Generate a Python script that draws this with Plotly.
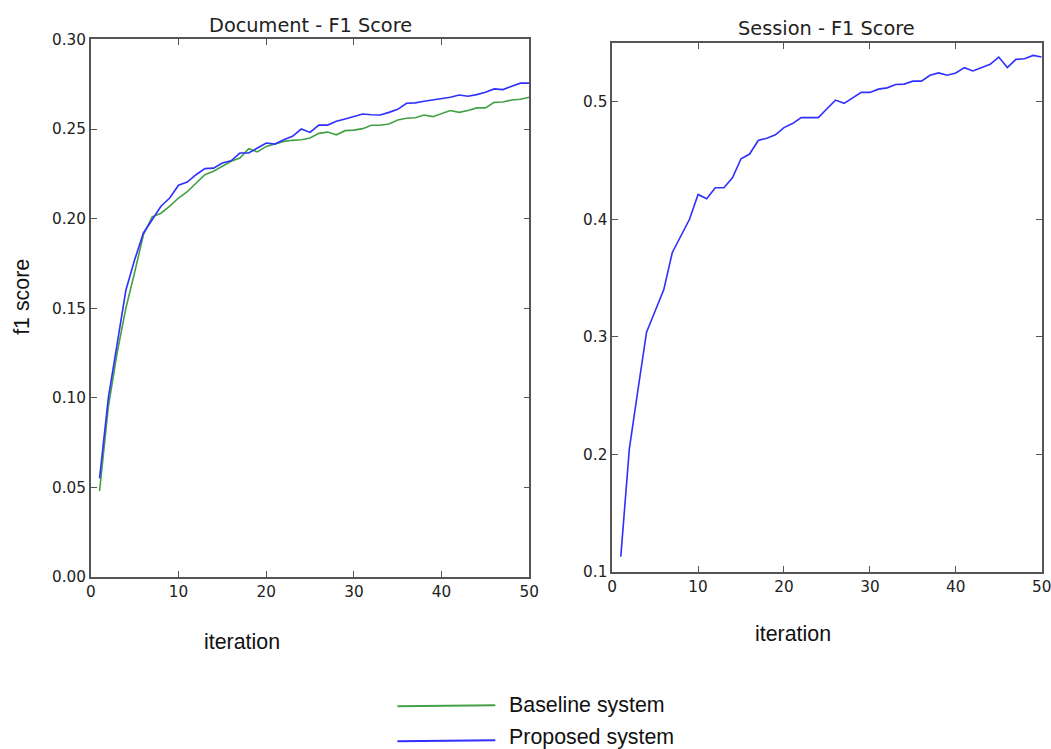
import plotly.graph_objects as go

iterations = list(range(1, 51))

doc_baseline = [0.048, 0.095, 0.125, 0.150, 0.170, 0.191, 0.201, 0.203, 0.207, 0.2115,
                0.215, 0.220, 0.2245, 0.2264, 0.2292, 0.232, 0.2338, 0.239, 0.2372, 0.2403,
                0.2416, 0.2431, 0.2437, 0.244, 0.245, 0.2476, 0.2483, 0.2468, 0.2491, 0.2494,
                0.2502, 0.2521, 0.2521, 0.2528, 0.255, 0.256, 0.2563, 0.2578, 0.2569, 0.2586,
                0.2603, 0.2593, 0.2603, 0.2618, 0.2618, 0.2649, 0.2651, 0.2662, 0.2666, 0.2677]

doc_proposed = [0.055, 0.100, 0.130, 0.160, 0.177, 0.192, 0.1994, 0.2069, 0.2115, 0.2186,
                0.2204, 0.2245, 0.2279, 0.2282, 0.231, 0.2323, 0.2366, 0.2366, 0.2394, 0.2422,
                0.2416, 0.244, 0.2459, 0.250, 0.2481, 0.2522, 0.2522, 0.2543, 0.2556, 0.2569,
                0.2584, 0.258, 0.2578, 0.2593, 0.261, 0.2644, 0.2646, 0.2655, 0.2662, 0.2672,
                0.2677, 0.269, 0.2683, 0.2692, 0.2705, 0.2724, 0.272, 0.2739, 0.2756, 0.2756]

session_proposed = [0.113, 0.205, 0.255, 0.304, 0.322, 0.340, 0.3718, 0.3859, 0.400, 0.4211,
                    0.4175, 0.4268, 0.4268, 0.4352, 0.4515, 0.4555, 0.467, 0.469, 0.4718, 0.478,
                    0.4814, 0.4865, 0.4865, 0.4865, 0.494, 0.5014, 0.4986, 0.503, 0.5079, 0.5079,
                    0.5107, 0.5118, 0.5146, 0.515, 0.5175, 0.5175, 0.5225, 0.5245, 0.5225, 0.5245,
                    0.529, 0.5262, 0.5287, 0.5318, 0.538, 0.529, 0.536, 0.5366, 0.5394, 0.538]

series_names = ["Baseline system", "Proposed system"]
GREEN = "#44a044"
BLUE = "#3030ff"

# observed mapping from figure pixels to the photographed picture
SX, SY = 0.987, 0.978
AX, AY = 4.1, 7.5
W, H = 1060, 757

def fx(v):
    return (v - AX) / SX
def fy(v):
    return (v - AY) / SY
def px_x(v):
    return fx(v) / W
def px_y(v):
    return 1 - fy(v) / H

K = 1 / 0.982

fig = go.Figure()
fig.add_trace(go.Scatter(x=iterations, y=doc_baseline, mode="lines", name=series_names[0],
                         line=dict(color=GREEN, width=1.6 * K), xaxis="x", yaxis="y", showlegend=False))
fig.add_trace(go.Scatter(x=iterations, y=doc_proposed, mode="lines", name=series_names[1],
                         line=dict(color=BLUE, width=1.6 * K), xaxis="x", yaxis="y", showlegend=False))
fig.add_trace(go.Scatter(x=iterations, y=session_proposed, mode="lines", name=series_names[1],
                         line=dict(color=BLUE, width=1.6 * K), xaxis="x2", yaxis="y2", showlegend=False))

tickfont = dict(family="DejaVu Sans", size=15 * K, color="#222222")
axis_common = dict(showgrid=False, zeroline=False, showline=True, linecolor="#555555", linewidth=1.5,
                   mirror="ticks", ticks="inside", ticklen=6, tickwidth=1, tickcolor="#555555",
                   tickfont=tickfont)

fig.update_layout(
    width=W, height=H,
    margin=dict(l=0, r=0, t=0, b=0),
    paper_bgcolor="white", plot_bgcolor="white",
    xaxis=dict(domain=[px_x(90), px_x(529)], range=[0, 50], tickvals=[0, 10, 20, 30, 40, 50],
               anchor="y", **axis_common),
    yaxis=dict(domain=[px_y(576.5), px_y(38)], range=[0, 0.30],
               tickvals=[0.0, 0.05, 0.10, 0.15, 0.20, 0.25, 0.30], tickformat=".2f",
               anchor="x", **axis_common),
    xaxis2=dict(domain=[px_x(612), px_x(1042)], range=[0, 50], tickvals=[0, 10, 20, 30, 40, 50],
                anchor="y2", **axis_common),
    yaxis2=dict(domain=[px_y(571.5), px_y(41.5)], range=[0.1, 0.55],
                tickvals=[0.1, 0.2, 0.3, 0.4, 0.5], tickformat=".1f",
                anchor="x2", **axis_common),
    showlegend=False,
)

title_font = dict(family="DejaVu Sans", size=19 * K, color="#222222")
label_font = dict(family="Liberation Sans, Arial", size=21 * K, color="#111111")
annotations = [
    dict(text="Document - F1 Score", x=px_x(310), y=px_y(24), xref="paper", yref="paper",
         showarrow=False, font=title_font, xanchor="center", yanchor="middle"),
    dict(text="Session - F1 Score", x=px_x(827), y=px_y(27), xref="paper", yref="paper",
         showarrow=False, font=title_font, xanchor="center", yanchor="middle"),
    dict(text="f1 score", x=px_x(21), y=px_y(296), xref="paper", yref="paper", textangle=-90,
         showarrow=False, font=label_font, xanchor="center", yanchor="middle"),
    dict(text="iteration", x=px_x(241), y=px_y(642), xref="paper", yref="paper",
         showarrow=False, font=label_font, xanchor="center", yanchor="middle"),
    dict(text="iteration", x=px_x(793), y=px_y(634), xref="paper", yref="paper",
         showarrow=False, font=label_font, xanchor="center", yanchor="middle"),
    dict(text=series_names[0], x=px_x(507), y=px_y(705), xref="paper", yref="paper",
         showarrow=False, font=label_font, xanchor="left", yanchor="middle"),
    dict(text=series_names[1], x=px_x(507), y=px_y(737), xref="paper", yref="paper",
         showarrow=False, font=label_font, xanchor="left", yanchor="middle"),
]
fig.update_layout(annotations=annotations)

legend_colors = [GREEN, BLUE]
legend_rows = [706, 741]
shapes = []
for c, yy in zip(legend_colors, legend_rows):
    shapes.append(dict(type="line", xref="paper", yref="paper", x0=px_x(397), x1=px_x(495),
                       y0=px_y(yy), y1=px_y(yy - 1), line=dict(color=c, width=2)))
fig.update_layout(shapes=shapes)

fig.write_html("out.html")
